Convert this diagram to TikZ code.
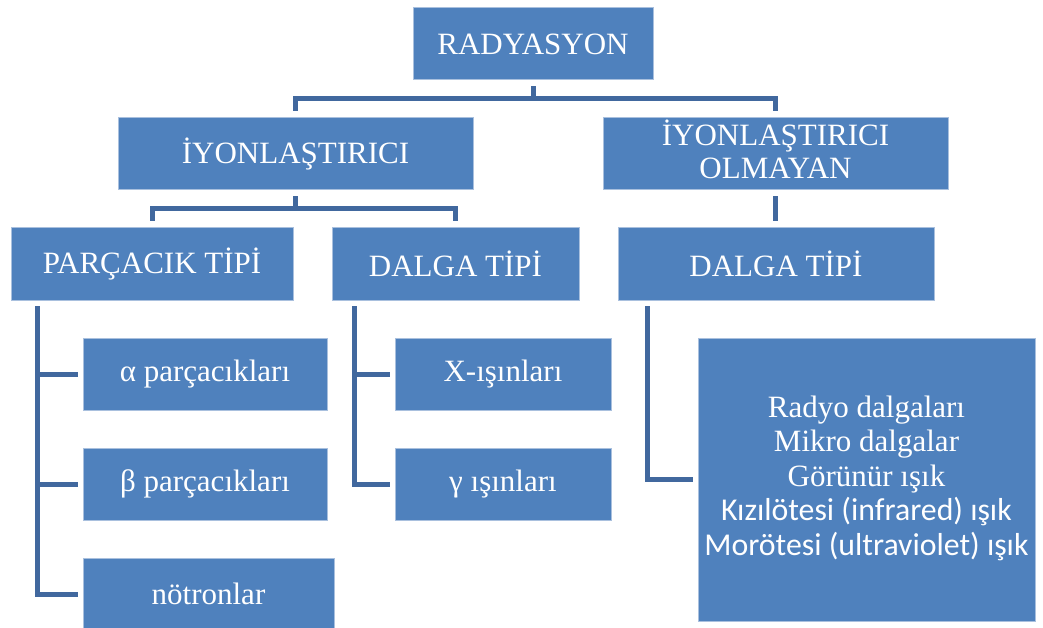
\documentclass[tikz,border=0pt]{standalone}
\usepackage{fontspec}
\setmainfont{Liberation Serif}
\newfontfamily\carlito{Carlito}
\definecolor{boxfill}{HTML}{4F81BD}
\definecolor{boxline}{HTML}{A9C0DE}
\definecolor{connc}{HTML}{41689E}
\begin{document}
\begin{tikzpicture}[x=1pt,y=-1pt,
  box/.style={rectangle, fill=boxfill, draw=boxline, line width=1pt, inner sep=0pt,
    text=white, align=center, font=\fontsize{31}{33}\selectfont},
  conn/.style={draw=connc, line width=5pt}]
\useasboundingbox (0,0) rectangle (1043,628);
% boxes
\node[box, minimum width=240pt, minimum height=72pt] (rad) at (533,44) {RADYASYON};
\node[box, minimum width=355pt, minimum height=72pt] (ion) at (295.5,154) {İYONLAŞTIRICI};
\node[box, minimum width=345pt, minimum height=72pt] (non) at (775.5,154) {\raisebox{3pt}{\begin{tabular}{@{}c@{}}İYONLAŞTIRICI\\OLMAYAN\end{tabular}}};
\node[box, minimum width=282pt, minimum height=72pt] (par) at (152,264) {PARÇACIK TİPİ};
\node[box, minimum width=247pt, minimum height=72pt] (dal1) at (455.5,264) {DALGA TİPİ};
\node[box, minimum width=316pt, minimum height=72pt] (dal2) at (776,264) {DALGA TİPİ};
\node[box, minimum width=244pt, minimum height=72pt] (alpha) at (205,374) {α parçacıkları};
\node[box, minimum width=244pt, minimum height=72pt] (beta) at (205,484) {β parçacıkları};
\node[box, minimum width=251pt, minimum height=72pt] (not) at (208.5,594) {nötronlar};
\node[box, minimum width=216pt, minimum height=72pt] (xr) at (503,374) {X-ışınları};
\node[box, minimum width=216pt, minimum height=72pt] (gam) at (503,484) {γ ışınları};
\node[box, minimum width=337pt, minimum height=283pt, font=\fontsize{31}{34.5}\selectfont] (big) at (866.5,479.5)
  {\raisebox{-2pt}{\begin{tabular}{@{}c@{}}Radyo dalgaları\\Mikro dalgalar\\Görünür ışık\\{\carlito\fontsize{31.8}{34.5}\selectfont Kızılötesi (infrared) ışık}\\{\carlito\fontsize{31.8}{34.5}\selectfont Morötesi (ultraviolet) ışık}\end{tabular}}};
% connectors
\coordinate (b1) at (533,99);
\draw[conn, shorten <=6pt] (rad.south) -- (b1);
\draw[conn, shorten >=6pt] (b1) -| (ion.north);
\draw[conn, shorten >=6pt] (b1) -| (non.north);
\coordinate (b2) at (295.5,209);
\draw[conn, shorten <=6pt] (ion.south) -- (b2);
\draw[conn, shorten >=6pt] (b2) -| (par.north);
\draw[conn, shorten >=6pt] (b2) -| (dal1.north);
\draw[conn, shorten <=6pt, shorten >=6pt] (non.south) -- (non.south |- dal2.north);
\coordinate (pl) at (37,300);
\draw[conn, shorten <=6pt, shorten >=5pt] (pl) |- (alpha.west);
\draw[conn, shorten <=6pt, shorten >=5pt] (pl) |- (beta.west);
\draw[conn, shorten <=6pt, shorten >=5pt] (pl) |- (not.west);
\coordinate (dl) at (354,300);
\draw[conn, shorten <=6pt, shorten >=5pt] (dl) |- (xr.west);
\draw[conn, shorten <=6pt, shorten >=5pt] (dl) |- (gam.west);
\coordinate (rl) at (647,300);
\draw[conn, shorten <=6pt, shorten >=5pt] (rl) |- (big.west);
\end{tikzpicture}
\end{document}
